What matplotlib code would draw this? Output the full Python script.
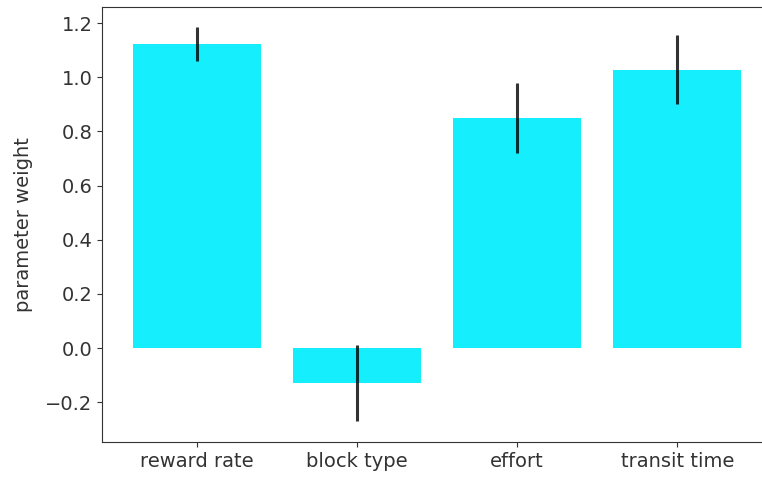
import matplotlib
matplotlib.use("Agg")
import matplotlib.pyplot as plt

categories = ["reward rate", "block type", "effort", "transit time"]
weights = [1.122, -0.13, 0.849, 1.028]
errors = [0.063, 0.14, 0.129, 0.128]

fig = plt.figure(figsize=(7.62, 4.8), dpi=100)
ax = fig.add_axes([0.134, 0.079, 0.879, 0.906])

x = range(len(categories))
ax.bar(x, weights, width=0.8, color="#15EEFC",
       yerr=errors, error_kw=dict(ecolor="black", elinewidth=2.2, alpha=0.8))
ax.set_xticks(list(x))
ax.set_xticklabels(categories, fontsize=14, color="#333333")
ax.set_xlim(-0.59, 3.59)
ax.set_ylim(-0.347, 1.259)
ax.set_yticks([-0.2, 0.0, 0.2, 0.4, 0.6, 0.8, 1.0, 1.2])
ax.tick_params(axis="both", labelsize=14, labelcolor="#333333", color="#333333")
ax.set_ylabel("parameter weight", fontsize=14, color="#333333", labelpad=9)
ax.spines["right"].set_visible(False)
for s in ax.spines.values():
    s.set_color("#333333")

fig.savefig("out.png", dpi=100)
